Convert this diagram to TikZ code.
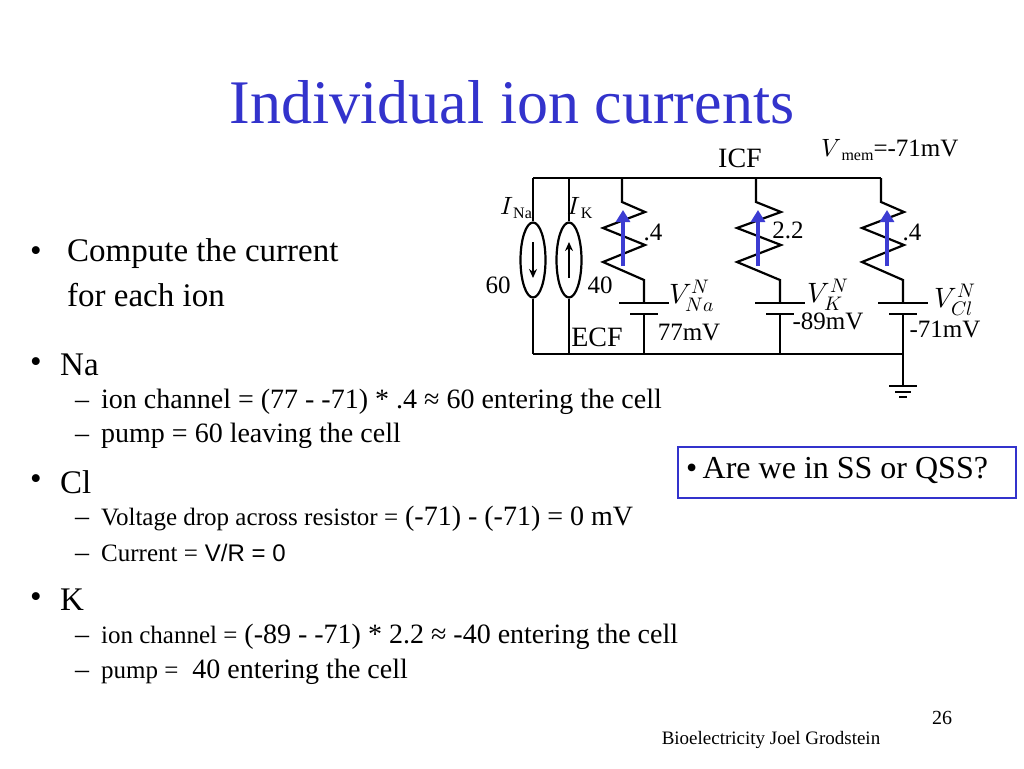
\documentclass[tikz,border=0pt]{standalone}
\usepackage{fontspec}
\setmainfont{Liberation Serif}
\newfontfamily\arialf{Liberation Sans}
\usepackage{unicode-math}
\setmathfont{Latin Modern Math}
\usetikzlibrary{shapes.geometric,arrows.meta}
\begin{document}
\begin{tikzpicture}[x=1pt,y=-1pt,
 wire/.style={line width=2.2pt},
 blu/.style={line width=4pt,-{Triangle[length=12pt,width=14pt]},color={rgb,255:red,60;green,60;blue,210}},
 txt/.style={inner sep=0pt,anchor=west},
 bt/.style={txt,font=\fontsize{33}{33}\selectfont},
 st/.style={txt,font=\fontsize{28}{28}\selectfont},
 cl/.style={inner sep=0pt,font=\fontsize{25}{25}\selectfont}]
\useasboundingbox (0,0) rectangle (1024,768);
\definecolor{tb}{RGB}{51,51,204}
\newcommand{\sm}[1]{{\fontsize{25}{25}\selectfont #1}}
\node[inner sep=0pt,text=tb,font=\fontsize{62}{62}\selectfont] (title) at (512,102) {Individual ion currents};
% bullets
\node[bt] (b1bul) at (30,254) {•};
\node[bt] (b1) at (67,254) {Compute the current};
\node[bt] (b1b) at (67,295) {for each ion};
\node[bt] (nabul) at (30,365) {•};
\node[bt] (na) at (60,365) {Na};
\node[st] (na1) at (75,402) {–\hspace{12pt}ion channel = (77 - -71) * .4 ≈ 60 entering the cell};
\node[st] (na2) at (75,436) {–\hspace{12pt}pump = 60 leaving the cell};
\node[bt] (clbul) at (30,482) {•};
\node[bt] (clb) at (60,482) {Cl};
\node[st] (cl1) at (75,519) {–\hspace{12pt}\sm{Voltage drop across resistor =} (-71) - (-71) = 0 mV};
\node[st] (cl2) at (75,553) {–\hspace{12pt}\sm{Current =} {\arialf\fontsize{24}{24}\selectfont V/R = 0}};
\node[bt] (kbul) at (30,600) {•};
\node[bt] (kb) at (60,600) {K};
\node[st] (k1) at (75,637) {–\hspace{12pt}\sm{ion channel =} (-89 - -71) * 2.2 ≈ -40 entering the cell};
\node[st] (k2) at (75,672) {–\hspace{12pt}\sm{pump =} \ 40 entering the cell};
\node[draw=tb,line width=1.5pt,minimum width=338pt,minimum height=51pt,anchor=north west,inner sep=0pt] (box) at (677,446) {};
\node[txt,font=\fontsize{32}{32}\selectfont] (boxt) at (686,470) {•\,Are we in SS or QSS?};
\node[inner sep=0pt,font=\fontsize{20}{20}\selectfont] (pg) at (942,718) {26};
\node[inner sep=0pt,font=\fontsize{19}{19}\selectfont] (ft) at (771,740) {Bioelectricity Joel Grodstein};
% circuit wires
\coordinate (tl) at (533,178); \coordinate (tr) at (881,178);
\coordinate (bl) at (533,354); \coordinate (br) at (903,354);
\draw[wire] (tl) -- (tr);
\draw[wire] (bl) -- (br);
% current sources
\foreach \x/\n in {533/a,569/b}{
 \node[draw,line width=2.2pt,ellipse,minimum width=25pt,minimum height=75pt,inner sep=0pt] (cs\n) at (\x,260) {};
 \draw[wire] (\x,178) -- (cs\n.north);
 \draw[wire] (cs\n.south) -- (\x,354);
}
\draw[line width=2.5pt,-{Stealth[length=9pt,width=8pt]}] (533,242) -- (533,278);
\draw[line width=2.5pt,-{Stealth[length=9pt,width=8pt]}] (569,278) -- (569,242);
% branches
\foreach \t/\b/\n in {622/644/na,756/780/k,881/903/cl}{
 \draw[wire,line join=miter] (\t,178) -- (\t,202) -- (\b+1,212) -- (\t-19,228) -- (\b+1,245) -- (\t-19,262) -- (\b,280) -- (\b,303);
 \draw[wire] (\b-25,303) -- (\b+25,303);
 \draw[wire] (\b-14,314) -- (\b+14,314);
 \draw[wire] (\b,314) -- (\b,354);
}
\draw[blu] (623,266) -- (623,210);
\draw[blu] (758,266) -- (758,210);
\draw[blu] (887,266) -- (887,210);
% ground
\draw[wire] (br) -- (903,385);
\draw[wire] (889,386) -- (917,386);
\draw[line width=2pt] (895,392) -- (911,392);
\draw[line width=2pt] (899,397) -- (907,397);
% labels
\node[cl,font=\fontsize{28}{28}\selectfont] (icf) at (740,158) {ICF};
\node[cl] (vm) at (890,150) {$V$\raisebox{-4pt}{\fontsize{16}{16}\selectfont mem}=-71mV};
\node[cl] (ina) at (516,208) {$I$\raisebox{-4pt}{\fontsize{16}{16}\selectfont Na}};
\node[cl] (ik) at (580,208) {$I$\raisebox{-4pt}{\fontsize{16}{16}\selectfont K}};
\node[cl] (s60) at (498,285) {60};
\node[cl] (s40) at (600,285) {40};
\node[cl,font=\fontsize{28}{28}\selectfont] (ecf) at (597,337) {ECF};
\node[cl] (r1) at (653,232) {.4};
\node[cl] (r2) at (788,230) {2.2};
\node[cl] (r3) at (912,232) {.4};
\node[cl,font=\fontsize{28}{28}\selectfont] (v1) at (692,296) {$V_{Na}^{N}$};
\node[cl,font=\fontsize{28}{28}\selectfont] (v2) at (828,295) {$V_{K}^{N}$};
\node[cl,font=\fontsize{28}{28}\selectfont] (v3) at (955,300) {$V_{Cl}^{N}$};
\node[cl] (m1) at (689,332) {77mV};
\node[cl] (m2) at (828,321) {-89mV};
\node[cl] (m3) at (945,329) {-71mV};
\end{tikzpicture}
\end{document}
